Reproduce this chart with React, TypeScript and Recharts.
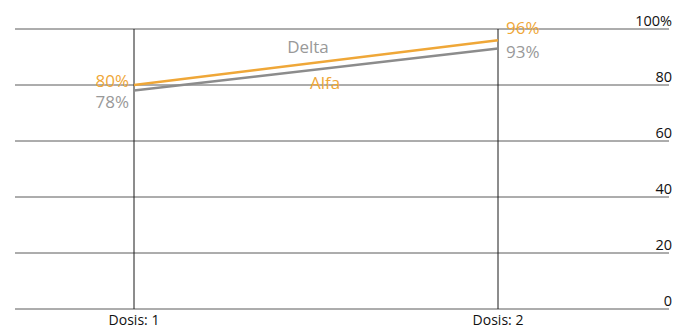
import { LineChart, Line, XAxis, YAxis, CartesianGrid, LabelList, ReferenceDot, ReferenceLine } from 'recharts'

const doses = [1, 2]
const alfa = [80, 96]
const delta = [78, 93]
const yTicks = [0, 20, 40, 60, 80, 100]

const ORANGE = '#efa738'
const GREY = '#8c8c8c'
const FONT = '"Open Sans", sans-serif'

const data = doses.map((d, i) => ({ dose: d, alfa: alfa[i], delta: delta[i] }))

// value labels sit left of the first point and right of the last one
const valueLabel = (color: string, dy: number[]) => (props: any) => {
  const { x, y, value, index } = props
  const first = index === 0
  return (
    <text
      x={first ? x - 5 : x + 8}
      y={y + dy[index]}
      fill={color}
      fontSize={17}
      fontFamily={FONT}
      textAnchor={first ? 'end' : 'start'}
      dominantBaseline="central"
    >
      {value}%
    </text>
  )
}

const YTick = (props: any) => {
  const { y, payload } = props
  return (
    <text x={672} y={y - 3} fontSize={14.5} fontFamily={FONT} fill="#111" textAnchor="end">
      {payload.value === 100 ? '100%' : payload.value}
    </text>
  )
}

const XTick = (props: any) => {
  const { x, y, payload } = props
  return (
    <text x={x} y={y + 8} fontSize={14} fontFamily={FONT} fill="#111" textAnchor="middle">
      {`Dosis: ${payload.value}`}
    </text>
  )
}

const nameLabel = (text: string, color: string) => (props: any) => {
  const { viewBox } = props
  return (
    <text
      x={viewBox.x + viewBox.width / 2}
      y={viewBox.y + viewBox.height / 2}
      fill={color}
      fontSize={17}
      fontFamily={FONT}
      textAnchor="middle"
      dominantBaseline="central"
    >
      {text}
    </text>
  )
}

export default function App() {
  return (
    <div style={{ position: 'absolute', left: 0, top: 0, width: 687, height: 328, background: '#fff' }}>
      <LineChart width={687} height={328} data={data} margin={{ top: 29, right: 0, bottom: 0, left: 15 }}>
        <CartesianGrid vertical={false} stroke="#5a5a5a" strokeWidth={1} />
        <XAxis
          dataKey="dose"
          type="number"
          domain={[1, 2]}
          ticks={doses}
          padding={{ left: 119, right: 171 }}
          axisLine={false}
          tickLine={false}
          height={19}
          tick={<XTick />}
        />
        <YAxis
          orientation="right"
          domain={[0, 100]}
          ticks={yTicks}
          axisLine={false}
          tickLine={false}
          width={18}
          tick={<YTick />}
        />
        {doses.map(d => (
          <ReferenceLine key={d} x={d} stroke="#1a1a1a" strokeWidth={1} />
        ))}
        <Line
          dataKey="delta"
          stroke={GREY}
          strokeWidth={2.5}
          dot={false}
          isAnimationActive={false}
        >
          <LabelList dataKey="delta" content={valueLabel('#999999', [11, 3])} />
        </Line>
        <Line
          dataKey="alfa"
          stroke={ORANGE}
          strokeWidth={2.5}
          dot={false}
          isAnimationActive={false}
        >
          <LabelList dataKey="alfa" content={valueLabel(ORANGE, [-5, -13])} />
        </Line>
        <ReferenceDot x={1.478} y={93.6} r={0} stroke="none" label={nameLabel('Delta', '#999999')} />
        <ReferenceDot x={1.525} y={80.8} r={0} stroke="none" label={nameLabel('Alfa', ORANGE)} />
      </LineChart>
    </div>
  )
}
